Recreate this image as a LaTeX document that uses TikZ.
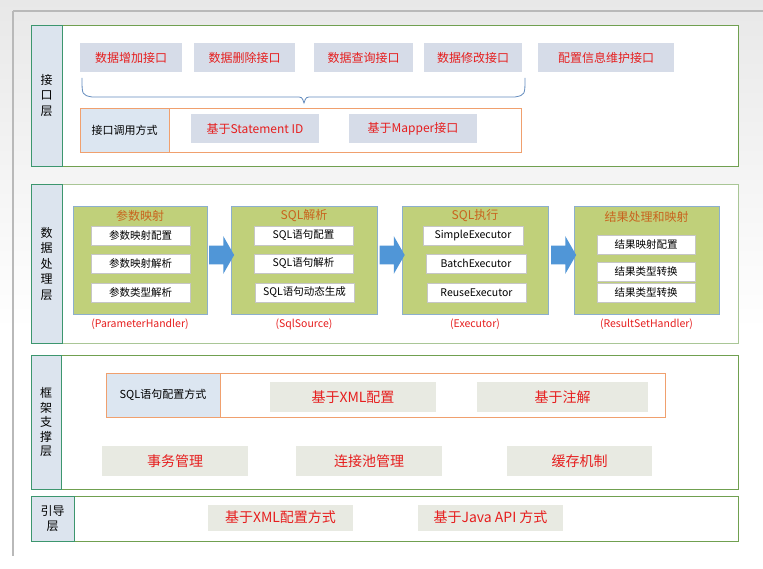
\documentclass[tikz,border=0pt]{standalone}
\usepackage{fontspec}
\setmainfont{Noto Sans CJK SC}
\usetikzlibrary{shapes.arrows,calc}
\definecolor{layerline}{RGB}{112,160,80}
\definecolor{tagline}{RGB}{60,150,110}
\definecolor{tagfill}{RGB}{220,228,238}
\definecolor{apifill}{RGB}{214,220,232}
\definecolor{redtxt}{RGB}{230,30,30}
\definecolor{orangeline}{RGB}{240,160,110}
\definecolor{cellfill}{RGB}{220,230,241}
\definecolor{stepfill}{RGB}{192,208,122}
\definecolor{stepline}{RGB}{140,175,205}
\definecolor{titletxt}{RGB}{200,100,30}
\definecolor{flowblue}{RGB}{80,150,215}
\definecolor{basefill}{RGB}{232,234,226}
\definecolor{braceblue}{RGB}{100,140,190}

\begin{document}
\begin{tikzpicture}[x=1pt,y=-1pt,line width=.6pt,
  layer/.style={draw=layerline,line width=.9pt},
  tag/.style={draw=tagline,fill=tagfill,line width=.9pt,inner sep=0pt,align=center,font=\fontsize{12}{15.5}\selectfont},
  api/.style={fill=apifill,text=redtxt,inner sep=0pt,minimum height=29,font=\fontsize{12}{14}\selectfont},
  cell/.style={draw=orangeline,fill=cellfill,inner sep=0pt,font=\fontsize{11}{13}\selectfont},
  stage/.style={draw=stepline,fill=stepfill,line width=.8pt,minimum height=108},
  stagetitle/.style={text=titletxt,inner sep=0pt,font=\fontsize{12}{14}\selectfont},
  item/.style={draw=gray!45,fill=white,inner sep=0pt,minimum height=19,font=\fontsize{10.5}{12}\selectfont},
  handler/.style={text=redtxt,inner sep=0pt,font=\fontsize{10.5}{12}\selectfont},
  flow/.style={single arrow,fill=flowblue,inner xsep=0pt,inner ysep=9pt,minimum height=25,single arrow head extend=9.5,single arrow tip angle=120},
  base/.style={fill=basefill,text=redtxt,inner sep=0pt,minimum height=30,font=\fontsize{14}{16}\selectfont}]
\path[use as bounding box] (0,0) rectangle (763,569);
% screenshot backdrop
\fill[white] (0,0) rectangle (763,569);
\fill[top color=gray!18,bottom color=white] (0,0) rectangle (763,330);
\draw[gray!55,line width=1.2pt] (13,11) -- (763,11);
\draw[gray!55,line width=1.2pt] (13,11) -- (13,556);

% interface layer
\draw[layer,fill=white] (31,25) rectangle (738,166);
\node[tag,minimum width=31,minimum height=141] (tagapi) at (46.5,95.5) {接\\口\\层};
\node[api,minimum width=102] (add) at (131,57.5) {数据增加接口};
\node[api,minimum width=101] (del) at (244.5,57.5) {数据删除接口};
\node[api,minimum width=99] (query) at (363.5,57.5) {数据查询接口};
\node[api,minimum width=98] (upd) at (473,57.5) {数据修改接口};
\node[api,minimum width=136] (cfg) at (606,57.5) {配置信息维护接口};
\draw[braceblue,line width=.8pt] (82,78) .. controls (82,95) .. (92,97) -- (296,97) .. controls (302,97) .. (304,103) .. controls (306,97) .. (312,97) -- (515,97) .. controls (525,95) .. (525,78);
\draw[orangeline,line width=.9pt] (80,108) rectangle (521,152);
\node[cell,minimum width=89,minimum height=44] (callway) at (124.5,130) {接口调用方式};
\node[api] (stmt) at (255,128.5) {\makebox[128pt]{基于Statement ID}};
\node[api] (mapper) at (413,128.5) {\makebox[128pt]{基于Mapper接口}};

% data processing layer
\draw[layer,draw=layerline!60,fill=white] (31,184) rectangle (738,343);
\node[tag,minimum width=31,minimum height=159] (tagdata) at (46.5,263.5) {数\\据\\处\\理\\层};
\node[stage,minimum width=134] (p1) at (140,260) {};
\node[stage,minimum width=146] (p2) at (304,260) {};
\node[stage,minimum width=146] (p3) at (475,260) {};
\node[stage,minimum width=145] (p4) at (646.5,260) {};
\node[stagetitle] (t1) at ($(p1.north)+(0,10)$) {参数映射};
\node[stagetitle] (t2) at ($(p2.north)+(0,10)$) {SQL解析};
\node[stagetitle] (t3) at ($(p3.north)+(0,10)$) {SQL执行};
\node[stagetitle] (t4) at ($(p4.north)+(0,11)$) {结果处理和映射};
\node[item,minimum width=99] (p1a) at (140.5,235.5) {参数映射配置};
\node[item,minimum width=99] (p1b) at (140.5,263.5) {参数映射解析};
\node[item,minimum width=99] (p1c) at (140.5,292.5) {参数类型解析};
\node[item,minimum width=99] (p2a) at (303.5,235.5) {SQL语句配置};
\node[item,minimum width=99] (p2b) at (303.5,263.5) {SQL语句解析};
\node[item,minimum width=99] (p2c) at (304.5,292.5) {SQL语句动态生成};
\node[item,minimum width=100] (p3a) at (473,235.5) {SimpleExecutor};
\node[item,minimum width=100] (p3b) at (476,263.5) {BatchExecutor};
\node[item,minimum width=99] (p3c) at (476.5,292.5) {ReuseExecutor};
\node[item,minimum width=98] (p4a) at (646,244.5) {结果映射配置};
\node[item,minimum width=98] (p4b) at (646,272) {结果类型转换};
\node[item,minimum width=98] (p4c) at (646,293) {结果类型转换};
\node[handler] (h1) at ($(p1.south)+(0,10)$) {(ParameterHandler)};
\node[handler] (h2) at ($(p2.south)+(0,10)$) {(SqlSource)};
\node[handler] (h3) at ($(p3.south)+(0,10)$) {(Executor)};
\node[handler] (h4) at ($(p4.south)+(0,10)$) {(ResultSetHandler)};
\node[flow] (f1) at ($(p1.east)!.5!(p2.west)+(0,-5)$) {};
\node[flow] (f2) at ($(p2.east)!.5!(p3.west)+(0,-5)$) {};
\node[flow] (f3) at ($(p3.east)!.5!(p4.west)+(0,-5)$) {};

% framework support layer
\draw[layer,fill=white] (31,355) rectangle (738,489);
\node[tag,minimum width=30,minimum height=134,font=\fontsize{12}{14.5}\selectfont] (tagframe) at (46,422) {框\\架\\支\\撑\\层};
\draw[orangeline,line width=.9pt] (106,373) rectangle (665,417);
\node[cell,minimum width=114,minimum height=44] (sqlway) at (163,395) {SQL语句配置方式};
\node[base,minimum width=166] (xml) at (353,397) {基于XML配置};
\node[base,minimum width=171] (anno) at (562.5,397) {基于注解};
\node[base,minimum width=146] (trans) at (175,461) {事务管理};
\node[base,minimum width=146] (pool) at (369,461) {连接池管理};
\node[base,minimum width=145] (cache) at (579.5,461) {缓存机制};

% bootstrap layer
\draw[layer,fill=white] (31,496) rectangle (738,541);
\node[tag,minimum width=43,minimum height=45,font=\fontsize{12}{15}\selectfont] (tagboot) at (52.5,518.5) {引导\\层};
\node[base,minimum width=145,minimum height=26] (xmlway) at (280.5,517.5) {基于XML配置方式};
\node[base,minimum width=145,minimum height=26] (javaapi) at (490.5,517.5) {基于Java API 方式};
\end{tikzpicture}
\end{document}
